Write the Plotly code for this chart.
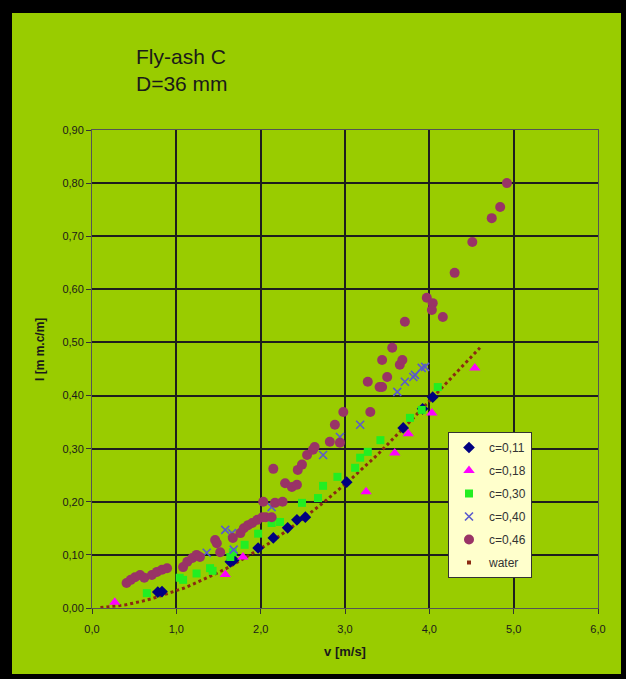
import plotly.graph_objects as go

# Hydraulic gradient I versus mean velocity v for fly-ash C slurries in a 36 mm pipe
v_c011 = [0.78, 0.83, 1.64, 1.68, 1.97, 2.15, 2.32, 2.43, 2.53, 3.02, 3.69, 3.92, 4.04]
i_c011 = [0.030, 0.031, 0.087, 0.090, 0.113, 0.132, 0.151, 0.166, 0.171, 0.237, 0.339, 0.375, 0.397]

v_c018 = [0.27, 1.58, 1.79, 3.25, 3.59, 3.75, 4.03, 4.54]
i_c018 = [0.011, 0.063, 0.096, 0.219, 0.292, 0.328, 0.367, 0.452]

v_c030 = [0.65, 1.04, 1.08, 1.24, 1.40, 1.43, 1.64, 1.67, 1.81, 1.97, 2.13, 2.23,
          2.49, 2.68, 2.74, 2.91, 3.12, 3.18, 3.27, 3.42, 3.77, 3.91, 4.10]
i_c030 = [0.028, 0.057, 0.053, 0.065, 0.075, 0.070, 0.096, 0.105, 0.119, 0.140, 0.160, 0.162,
          0.198, 0.207, 0.230, 0.247, 0.264, 0.283, 0.294, 0.316, 0.358, 0.373, 0.416]

v_c040 = [1.36, 1.58, 1.66, 1.68, 2.13, 2.74, 2.94, 3.18, 3.62, 3.71, 3.81, 3.83, 3.91, 3.95]
i_c040 = [0.104, 0.147, 0.141, 0.110, 0.190, 0.288, 0.322, 0.345, 0.407, 0.426, 0.435, 0.439, 0.452, 0.454]

v_c046 = [0.41, 0.46, 0.51, 0.57, 0.62, 0.71, 0.77, 0.83, 0.89, 1.08, 1.13, 1.19, 1.24, 1.28,
          1.46, 1.48, 1.52, 1.67, 1.76, 1.80, 1.85, 1.90, 1.96, 2.02, 2.06, 2.03, 2.13, 2.17,
          2.26, 2.15, 2.29, 2.37, 2.43, 2.44, 2.49, 2.55, 2.62, 2.64, 2.82, 2.88, 2.94, 2.98,
          3.27, 3.30, 3.41, 3.44, 3.44, 3.50, 3.56, 3.65, 3.68, 3.71, 3.97, 4.04, 4.03, 4.16,
          4.30, 4.51, 4.74, 4.84, 4.92]
i_c046 = [0.047, 0.053, 0.058, 0.062, 0.057, 0.062, 0.068, 0.072, 0.075, 0.077, 0.087, 0.094, 0.100, 0.096,
          0.128, 0.122, 0.105, 0.132, 0.141, 0.150, 0.156, 0.160, 0.166, 0.171, 0.171, 0.200, 0.171, 0.198,
          0.200, 0.262, 0.235, 0.228, 0.232, 0.260, 0.270, 0.288, 0.298, 0.303, 0.313, 0.345, 0.311, 0.369,
          0.426, 0.369, 0.416, 0.467, 0.416, 0.435, 0.490, 0.458, 0.467, 0.539, 0.584, 0.574, 0.561, 0.548,
          0.631, 0.689, 0.734, 0.755, 0.800]

v_water = [0.1, 0.2, 0.3, 0.4, 0.5, 0.6, 0.7, 0.8, 0.9, 1.0, 1.1, 1.2, 1.3, 1.4, 1.5, 1.6,
           1.7, 1.8, 1.9, 2.0, 2.1, 2.2, 2.3, 2.4, 2.5, 2.6, 2.7, 2.8, 2.9, 3.0, 3.1, 3.2,
           3.3, 3.4, 3.5, 3.6, 3.7, 3.8, 3.9, 4.0, 4.1, 4.2, 4.3, 4.4, 4.5, 4.6]
i_water = [0.001, 0.002, 0.004, 0.006, 0.009, 0.013, 0.017, 0.022, 0.027, 0.032, 0.038, 0.045,
           0.052, 0.059, 0.067, 0.075, 0.084, 0.093, 0.102, 0.112, 0.122, 0.133, 0.144, 0.156,
           0.168, 0.180, 0.193, 0.206, 0.219, 0.233, 0.247, 0.261, 0.276, 0.291, 0.307, 0.323,
           0.339, 0.356, 0.373, 0.390, 0.407, 0.424, 0.441, 0.458, 0.474, 0.490]

x_ticks = [0, 1, 2, 3, 4, 5, 6]
y_ticks = [0.0, 0.1, 0.2, 0.3, 0.4, 0.5, 0.6, 0.7, 0.8, 0.9]

FONT = "Liberation Sans, Arial, sans-serif"
W, H = 626, 679
ML, MR, MT, MB = 92, 28, 130, 71

fig = go.Figure()

fig.add_trace(go.Scatter(x=v_water, y=i_water, mode="lines", showlegend=False,
                         legendgroup="water",
                         line=dict(color="#8B2A12", width=3, dash="dot")))

series = [
    ("c=0,11", v_c011, i_c011, dict(symbol="diamond", size=9, color="#000080")),
    ("c=0,18", v_c018, i_c018, dict(symbol="triangle-up", size=10, color="#FF00FF")),
    ("c=0,30", v_c030, i_c030, dict(symbol="square", size=8, color="#22EE22")),
    ("c=0,40", v_c040, i_c040, dict(symbol="x-thin", size=8, color="#5A5ACD",
                                    line=dict(width=1.6, color="#5A5ACD"))),
    ("c=0,46", v_c046, i_c046, dict(symbol="circle", size=10, color="#993366")),
]
for name, xs, ys, mk in series:
    fig.add_trace(go.Scatter(x=xs, y=ys, mode="markers", name=name,
                             legendgroup=name, marker=mk))

# legend entry for the water curve
fig.add_trace(go.Scatter(x=[None], y=[None], mode="markers", name="water",
                         legendgroup="water",
                         marker=dict(symbol="square", size=4, color="#8B2A12")))

pw = W - ML - MR
ph = H - MT - MB


def px_x(p):
    return (p - ML) / pw


def px_y(p):
    return (H - MB - p) / ph


# black frame with the green panel
fig.add_shape(type="rect", xref="paper", yref="paper",
              x0=px_x(12), x1=px_x(621), y0=px_y(674), y1=px_y(13),
              fillcolor="#99CC00", line=dict(width=0), layer="below")

fig.add_annotation(xref="paper", yref="paper", x=px_x(134), y=px_y(43),
                   xanchor="left", yanchor="top", align="left", showarrow=False,
                   text="Fly-ash C<br>D=36 mm",
                   font=dict(family=FONT, size=21, color="#1a1a1a"))

fig.add_annotation(xref="paper", yref="paper", x=px_x(40), y=px_y(350),
                   xanchor="center", yanchor="middle", showarrow=False, textangle=-90,
                   text="<b>I [m m.c/m]</b>",
                   font=dict(family=FONT, size=12, color="#1a1a1a"))

axis_common = dict(showgrid=True, gridcolor="#1e1e1e", gridwidth=1.8,
                   showline=True, linecolor="#555555", linewidth=1, mirror=True,
                   ticks="outside", ticklen=5, tickcolor="#333333", tickwidth=1,
                   zeroline=False,
                   tickfont=dict(family=FONT, size=11, color="#1a1a1a"))

fig.update_xaxes(range=[0, 6], tickvals=x_ticks, tickformat=".1f", ticklabelstandoff=6,
                 title=dict(text="<b>v [m/s]</b>", standoff=12,
                            font=dict(family=FONT, size=13, color="#1a1a1a")),
                 **axis_common)
fig.update_yaxes(range=[0, 0.9], tickvals=y_ticks, tickformat=".2f", **axis_common)

fig.update_layout(
    width=W, height=H,
    margin=dict(l=ML, r=MR, t=MT, b=MB),
    paper_bgcolor="#000000",
    plot_bgcolor="#FFFFCC",
    separators=", ",
    font=dict(family=FONT, color="#222222"),
    legend=dict(x=px_x(448), y=px_y(432), xanchor="left", yanchor="top",
                bgcolor="#FFFFCC", bordercolor="#333333", borderwidth=1,
                tracegroupgap=4, itemwidth=30,
                font=dict(family=FONT, size=12, color="#333333")),
)

fig.write_html("out.html")
